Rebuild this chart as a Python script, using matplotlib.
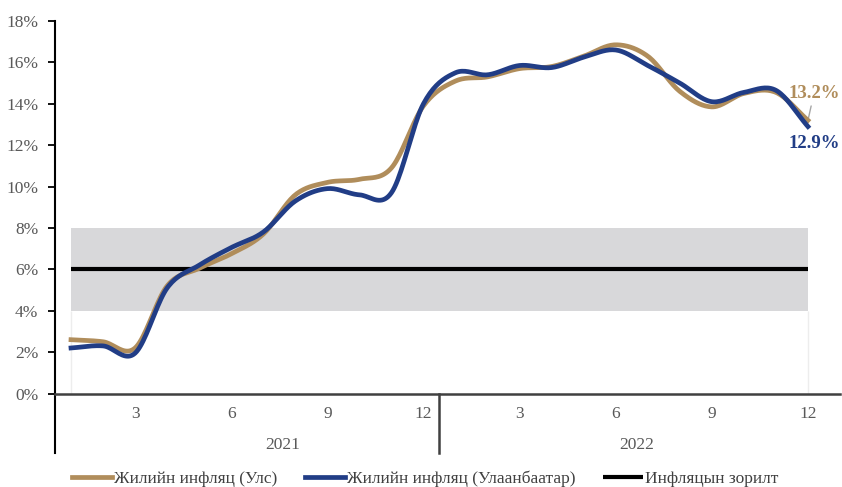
import matplotlib
matplotlib.use('Agg')
from matplotlib import pyplot as plt
import numpy as np

months = np.arange(1, 25)
month_ticks = [3, 6, 9, 12, 15, 18, 21, 24]
month_labels = ['3', '6', '9', '12', '3', '6', '9', '12']
years = ['2021', '2022']
year_pos = [7.6, 18.65]

infl_national = [2.6, 2.5, 2.2, 5.2, 6.05, 6.75, 7.7, 9.6, 10.2, 10.35, 10.9, 13.9,
                 15.1, 15.3, 15.7, 15.8, 16.3, 16.85, 16.3, 14.6, 13.85, 14.5, 14.55, 13.2]
infl_ub = [2.2, 2.3, 1.95, 5.1, 6.2, 7.05, 7.8, 9.3, 9.9, 9.6, 9.7, 14.0,
           15.5, 15.4, 15.85, 15.75, 16.25, 16.6, 15.85, 15.0, 14.1, 14.55, 14.65, 12.9]
target = 6.0
band_low, band_high = 4.0, 8.0

names = ['Жилийн инфляц (Улс)', 'Жилийн инфляц (Улаанбаатар)', 'Инфляцын зорилт']
c_tan = '#B08D5B'
c_blue = '#213D86'


def smooth(x, y, n=20):
    # catmull-rom, like excel's smoothed line
    x = np.asarray(x, float)
    y = np.asarray(y, float)
    px = np.concatenate([[2 * x[0] - x[1]], x, [2 * x[-1] - x[-2]]])
    py = np.concatenate([[2 * y[0] - y[1]], y, [2 * y[-1] - y[-2]]])
    xs, ys = [], []
    t = np.linspace(0, 1, n, endpoint=False)
    for i in range(1, len(px) - 2):
        for p, out in ((px, xs), (py, ys)):
            p0, p1, p2, p3 = p[i - 1], p[i], p[i + 1], p[i + 2]
            out.extend(0.5 * ((2 * p1) + (-p0 + p2) * t +
                              (2 * p0 - 5 * p1 + 4 * p2 - p3) * t ** 2 +
                              (-p0 + 3 * p1 - 3 * p2 + p3) * t ** 3))
    xs.append(x[-1])
    ys.append(y[-1])
    return np.array(xs), np.array(ys)


plt.rcParams['font.family'] = ['Liberation Serif', 'DejaVu Serif']

fig = plt.figure(figsize=(8.42, 4.87), dpi=100)
ax = fig.add_axes([55 / 842, (487 - 393.5) / 487, (840 - 55) / 842, 372.5 / 487])

# target band
ax.fill_between([1, 24], band_low, band_high, color='#D8D8DA', lw=0, zorder=1)
ax.vlines([1, 24], 0, band_low, color='#EDEDED', lw=1, zorder=1)

l3, = ax.plot([1, 24], [target, target], color='black', lw=3, zorder=3, solid_capstyle='butt')
sx, sy = smooth(months, infl_national)
l1, = ax.plot(sx, sy, color=c_tan, lw=3.4, zorder=4)
sx, sy = smooth(months, infl_ub)
l2, = ax.plot(sx, sy, color=c_blue, lw=3.4, zorder=5)

ax.annotate(f'{infl_national[-1]:.1f}%', xy=(24, infl_national[-1]), xytext=(6, 27),
            textcoords='offset pixels', ha='center', va='center', fontsize=13.5,
            fontweight='bold', color=c_tan,
            arrowprops=dict(arrowstyle='-', color='#A6A6A6', lw=1, shrinkA=1, shrinkB=0))
ax.annotate(f'{infl_ub[-1]:.1f}%', xy=(24, infl_ub[-1]), xytext=(6, -17),
            textcoords='offset pixels', ha='center', va='center', fontsize=13.5,
            fontweight='bold', color=c_blue)

ax.set_xlim(0.5, 25)
ax.set_ylim(0, 18)
ax.set_yticks(np.arange(0, 19, 2))
ax.set_yticklabels([f'{v}%' for v in range(0, 19, 2)])
ax.set_xticks(month_ticks)
ax.set_xticklabels(month_labels)
ax.tick_params(axis='x', length=0, pad=9, labelsize=12.5, labelcolor='#595959')
ax.tick_params(axis='y', length=5, width=1.3, pad=7, labelsize=12.5, labelcolor='#595959')

for s in ['top', 'right']:
    ax.spines[s].set_visible(False)
ax.spines['left'].set_linewidth(1.5)
ax.spines['bottom'].set_linewidth(1.8)
ax.spines['bottom'].set_color('#404040')

# category group lines below the axis
ax.plot([0.5, 0.5], [0, -0.16], transform=ax.get_xaxis_transform(), color='black',
        lw=1.5, clip_on=False)
ax.plot([12.5, 12.5], [0, -0.16], transform=ax.get_xaxis_transform(), color='#404040',
        lw=1.8, clip_on=False)
for yr, xp in zip(years, year_pos):
    ax.text(xp, -0.138, yr, transform=ax.get_xaxis_transform(), ha='center', va='center',
            fontsize=12.5, color='#595959')

fig.legend([l1, l2, l3], names, loc='center', bbox_to_anchor=(0.505, 8 / 487), ncol=3,
           frameon=False, fontsize=12.5, handlelength=2.3, handletextpad=0.1,
           columnspacing=1.6, labelcolor='#404040')

fig.savefig('out.png', dpi=100)
